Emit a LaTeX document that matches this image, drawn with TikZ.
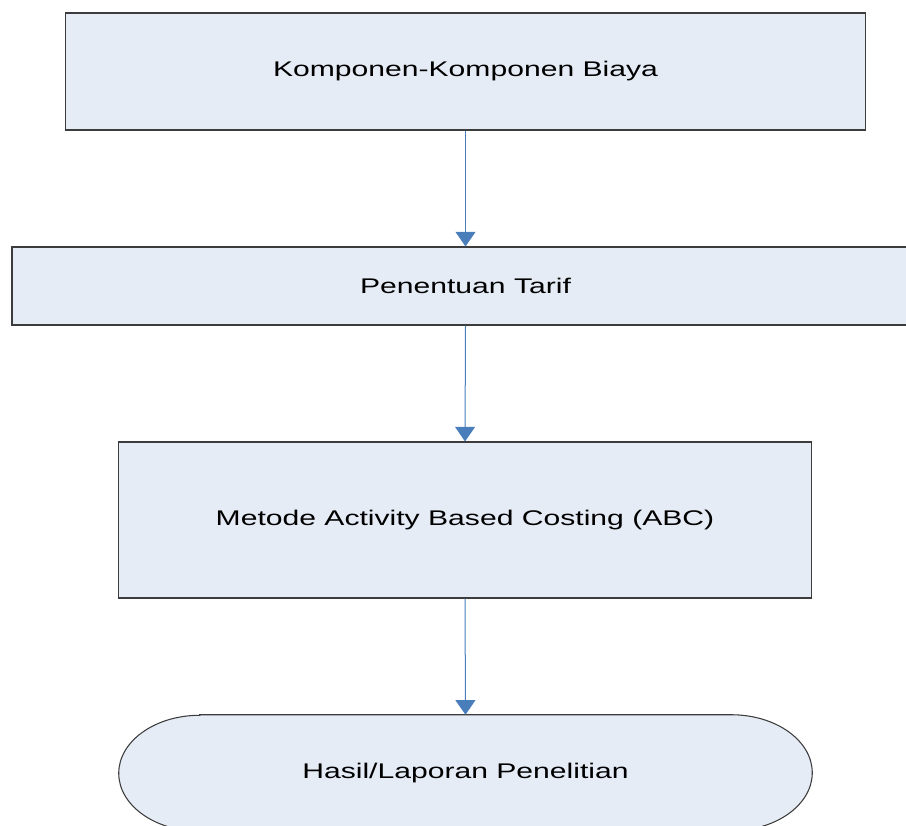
\documentclass[tikz,border=0pt]{standalone}
\usepackage{fontspec}
\setmainfont{Liberation Sans}
\usetikzlibrary{arrows.meta,positioning,backgrounds}
\definecolor{boxfill}{RGB}{230,236,246}
\definecolor{boxline}{RGB}{60,60,60}
\definecolor{arrowblue}{RGB}{74,126,187}
\newcommand{\widetext}[1]{\scalebox{1.42}[1]{#1}}

\begin{document}
\begin{tikzpicture}[
    x=0.75pt, y=-0.75pt,
    box/.style={draw=boxline,line width=0.8pt,fill=boxfill,inner sep=0pt,
        font=\fontsize{15.9}{19}\selectfont},
    term/.style={inner sep=0pt,minimum width=519.75pt,minimum height=87pt,
        font=\fontsize{15.9}{19}\selectfont},
    arrow/.style={draw=arrowblue,line width=0.75pt,
        -{Triangle[length=11pt,width=15pt,fill=arrowblue]}}
]
    \clip (0,0) rectangle (906,825);
    \useasboundingbox (0,0) rectangle (906,825);

    \node[box,minimum width=600pt,minimum height=87.75pt] (komp) at (465.5,71.5) {\widetext{Komponen-Komponen Biaya}};
    \node[box,minimum width=680.25pt,minimum height=58.5pt] (tarif) at (465.5,286) {\widetext{Penentuan Tarif}};
    \node[box,minimum width=519.4pt,minimum height=117pt] (abc) at (465,520) {\widetext{Metode Activity Based Costing (ABC)}};
    \node[term] (hasil) at (465.5,773) {\widetext{Hasil/Laporan Penelitian}};

    % terminal outline with elliptical ends
    \begin{scope}[on background layer]
        \draw[draw=boxline,line width=0.8pt,fill=boxfill]
            ([xshift=60.75pt]hasil.north west) -- ([xshift=-60.75pt]hasil.north east)
            arc[start angle=90,end angle=-90,x radius=60.75pt,y radius=43.5pt]
            -- ([xshift=60.75pt]hasil.south west)
            arc[start angle=270,end angle=90,x radius=60.75pt,y radius=43.5pt]
            -- cycle;
    \end{scope}

    \draw[arrow] (komp.south) -- (tarif.north);
    \draw[arrow] (tarif.south) -- (abc.north);
    \draw[arrow] (abc.south) -- (hasil.north);
\end{tikzpicture}
\end{document}
